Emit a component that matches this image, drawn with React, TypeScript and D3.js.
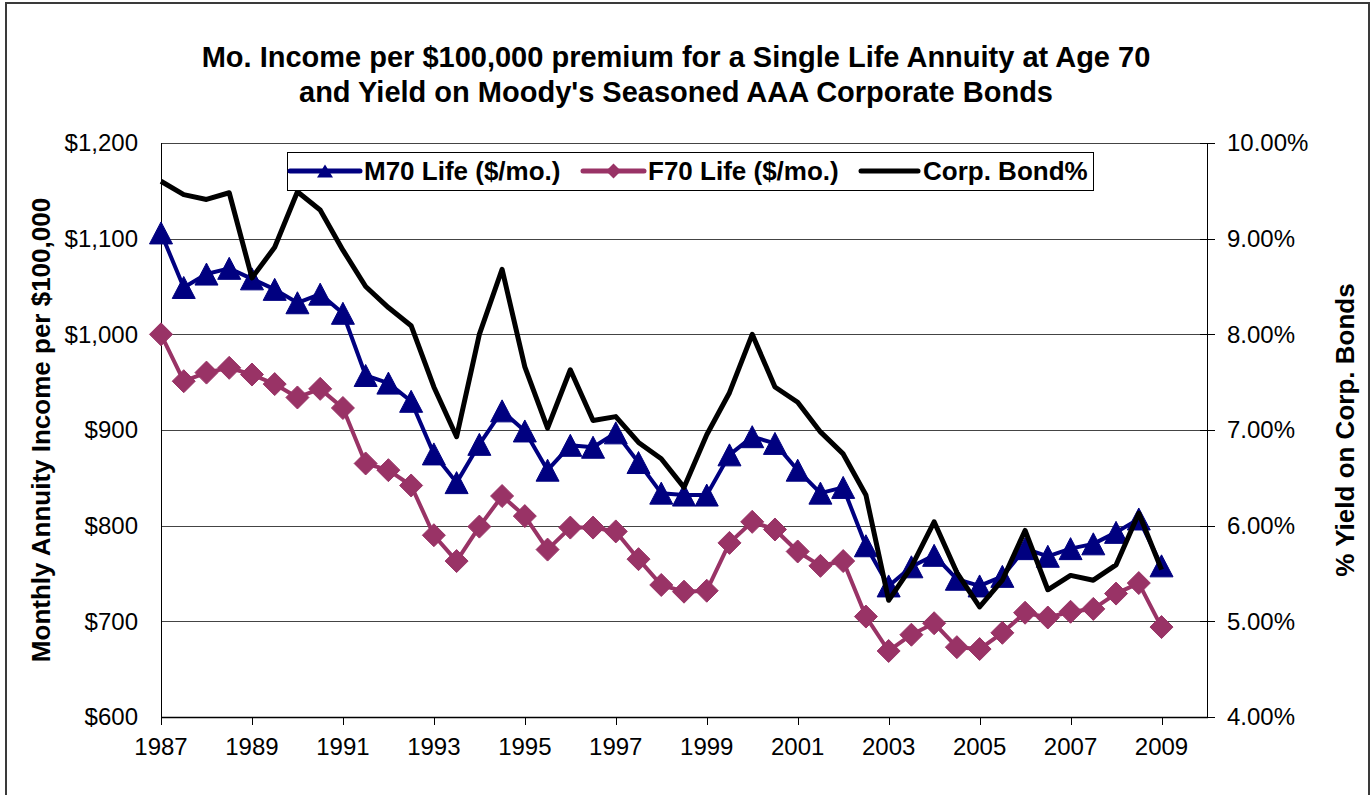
import React from "react";
import * as d3 from "d3";

const years = [
  1987, 1987.5, 1988, 1988.5, 1989, 1989.5, 1990, 1990.5, 1991, 1991.5,
  1992, 1992.5, 1993, 1993.5, 1994, 1994.5, 1995, 1995.5, 1996, 1996.5,
  1997, 1997.5, 1998, 1998.5, 1999, 1999.5, 2000, 2000.5, 2001, 2001.5,
  2002, 2002.5, 2003, 2003.5, 2004, 2004.5, 2005, 2005.5, 2006, 2006.5,
  2007, 2007.5, 2008, 2008.5, 2009,
];

const m70 = [
  1106, 1049, 1063, 1069, 1058, 1047, 1033, 1042, 1022, 957,
  949, 930, 875, 845, 885, 920, 899, 858, 884, 882,
  897, 866, 834, 832, 832, 874, 893, 886, 858, 834,
  840, 779, 737, 757, 769, 744, 737, 747, 776, 768,
  776, 781, 793, 807, 758,
];

const f70 = [
  1000, 951, 960, 965, 958, 948, 934, 943, 923, 865,
  858, 842, 790, 763, 799, 831, 810, 775, 798, 798,
  794, 765, 738, 731, 732, 782, 804, 796, 773, 758,
  763, 705, 669, 686, 698, 673, 671, 688, 709, 704,
  710, 713, 729, 740, 694,
];

const bond = [
  9.6, 9.46, 9.41, 9.48, 8.59, 8.91, 9.49, 9.3, 8.88, 8.5,
  8.28, 8.09, 7.45, 6.93, 8.0, 8.68, 7.66, 7.02, 7.63, 7.1,
  7.14, 6.87, 6.7, 6.4, 6.95, 7.39, 8.0, 7.45, 7.29, 6.98,
  6.75, 6.32, 5.22, 5.57, 6.04, 5.51, 5.15, 5.43, 5.95, 5.33,
  5.48, 5.43, 5.59, 6.13, 5.54,
];

const xTicks = [1987, 1989, 1991, 1993, 1995, 1997, 1999, 2001, 2003, 2005, 2007, 2009];
const leftTicks = [600, 700, 800, 900, 1000, 1100, 1200];
const rightTicks = [4, 5, 6, 7, 8, 9, 10];

const titleLines = [
  "Mo. Income per $100,000 premium for a Single Life Annuity at Age 70",
  "and Yield on Moody's Seasoned AAA Corporate Bonds",
];
const seriesNames = ["M70 Life ($/mo.)", "F70 Life ($/mo.)", "Corp. Bond%"];

const FONT = "'Liberation Sans', Arial, Helvetica, sans-serif";
const NAVY = "#000080";
const MAGENTA = "#993366";

const triPath = (w: number, h: number) =>
  `M0,${-h / 2}L${w / 2},${h / 2}L${-w / 2},${h / 2}Z`;
const diaPath = (w: number, h: number) =>
  `M0,${-h / 2}L${w / 2},0L0,${h / 2}L${-w / 2},0Z`;

export default function App() {
  const W = 1372;
  const H = 795;
  const left = 161;
  const right = 1207;
  const top = 143;
  const bottom = 717;

  const x = d3.scaleLinear().domain([1987, 2010]).range([left, right]);
  const yL = d3.scaleLinear().domain([600, 1200]).range([bottom, top]);
  const yR = d3.scaleLinear().domain([4, 10]).range([bottom, top]);

  const lineL = d3
    .line<number>()
    .x((_, i) => x(years[i]))
    .y((d) => yL(d));
  const lineR = d3
    .line<number>()
    .x((_, i) => x(years[i]))
    .y((d) => yR(d));

  const fmtDollar = (v: number) => "$" + d3.format(",")(v);
  const fmtPct = (v: number) => v.toFixed(2) + "%";

  // legend layout
  const legY = 171;
  const legendItems = [
    { x1: 290, x2: 360, tx: 364, color: NAVY, marker: "tri", w: 5 },
    { x1: 583, x2: 644, tx: 648, color: MAGENTA, marker: "dia", w: 5 },
    { x1: 861, x2: 918, tx: 923, color: "#000", marker: "none", w: 5 },
  ];

  return (
    <svg
      width={W}
      height={H}
      style={{ position: "absolute", left: 0, top: 0, background: "#fff" }}
      fontFamily={FONT}
    >
      <rect x={0} y={0} width={W} height={H} fill="#fff" />
      {/* outer frame */}
      <rect x={6} y={3} width={1363} height={900} fill="none" stroke="#3a3a3a" strokeWidth={2} />

      {/* title */}
      {titleLines.map((t, i) => (
        <text
          key={i}
          x={676}
          y={67 + i * 35}
          textAnchor="middle"
          fontSize={29}
          fontWeight="bold"
          fill="#000"
        >
          {t}
        </text>
      ))}

      {/* gridlines */}
      {leftTicks
        .filter((v) => v > 600)
        .map((v) => (
          <line
            key={v}
            x1={left}
            x2={right}
            y1={Math.round(yL(v)) + 0.5}
            y2={Math.round(yL(v)) + 0.5}
            stroke="#444"
            strokeWidth={1}
          />
        ))}

      {/* left axis */}
      <line x1={left + 0.5} x2={left + 0.5} y1={top} y2={bottom} stroke="#000" strokeWidth={1} />
      {leftTicks.map((v) => (
        <text
          key={v}
          x={138}
          y={yL(v)}
          dy="0.35em"
          textAnchor="end"
          fontSize={24}
          fill="#000"
        >
          {fmtDollar(v)}
        </text>
      ))}

      {/* right axis */}
      <line x1={right + 0.5} x2={right + 0.5} y1={top} y2={bottom} stroke="#000" strokeWidth={1} />
      {rightTicks.map((v) => (
        <g key={v}>
          <line
            x1={right - 7}
            x2={right + 8}
            y1={Math.round(yR(v)) + 0.5}
            y2={Math.round(yR(v)) + 0.5}
            stroke="#000"
            strokeWidth={1}
          />
          <text x={1227} y={yR(v)} dy="0.35em" textAnchor="start" fontSize={24} fill="#000">
            {fmtPct(v)}
          </text>
        </g>
      ))}

      {/* x axis */}
      <line x1={left} x2={right + 1} y1={bottom + 0.5} y2={bottom + 0.5} stroke="#000" strokeWidth={1.5} />
      {xTicks.map((v) => (
        <g key={v}>
          <line
            x1={Math.round(x(v)) + 0.5}
            x2={Math.round(x(v)) + 0.5}
            y1={bottom}
            y2={bottom + 8}
            stroke="#000"
            strokeWidth={1}
          />
          <text x={x(v)} y={755} textAnchor="middle" fontSize={24} fill="#000">
            {v}
          </text>
        </g>
      ))}

      {/* axis titles */}
      <text
        transform={`translate(50,${(top + bottom) / 2}) rotate(-90)`}
        textAnchor="middle"
        fontSize={26}
        fontWeight="bold"
        fill="#000"
      >
        Monthly Annuity Income per $100,000
      </text>
      <text
        transform={`translate(1354,${(top + bottom) / 2}) rotate(-90)`}
        textAnchor="middle"
        fontSize={26}
        fontWeight="bold"
        fill="#000"
      >
        % Yield on Corp. Bonds
      </text>

      {/* M70 series */}
      <path d={lineL(m70) || ""} fill="none" stroke={NAVY} strokeWidth={4} strokeLinejoin="round" />
      {m70.map((v, i) => (
        <path
          key={"m" + i}
          d={triPath(23, 22)}
          transform={`translate(${x(years[i])},${yL(v)})`}
          fill={NAVY}
          stroke={NAVY}
          strokeWidth={1}
        />
      ))}

      {/* F70 series */}
      <path d={lineL(f70) || ""} fill="none" stroke={MAGENTA} strokeWidth={4} strokeLinejoin="round" />
      {f70.map((v, i) => (
        <path
          key={"f" + i}
          d={diaPath(23, 23)}
          transform={`translate(${x(years[i])},${yL(v)})`}
          fill={MAGENTA}
          stroke={MAGENTA}
          strokeWidth={1}
        />
      ))}

      {/* Bond series */}
      <path d={lineR(bond) || ""} fill="none" stroke="#000" strokeWidth={5} strokeLinejoin="round" />

      {/* legend */}
      <rect x={287.5} y={152.5} width={806} height={38} fill="#fff" stroke="#000" strokeWidth={1} />
      {legendItems.map((it, i) => (
        <g key={i}>
          <line
            x1={it.x1}
            x2={it.x2}
            y1={legY}
            y2={legY}
            stroke={it.color}
            strokeWidth={it.w}
            strokeLinecap="round"
          />
          {it.marker === "tri" && (
            <path d={triPath(16, 13)} transform={`translate(${(it.x1 + it.x2) / 2},${legY})`} fill={it.color} />
          )}
          {it.marker === "dia" && (
            <path d={diaPath(15, 15)} transform={`translate(${(it.x1 + it.x2) / 2},${legY})`} fill={it.color} />
          )}
          <text x={it.tx} y={legY + 9} fontSize={26} fontWeight="bold" fill="#000">
            {seriesNames[i]}
          </text>
        </g>
      ))}
    </svg>
  );
}
